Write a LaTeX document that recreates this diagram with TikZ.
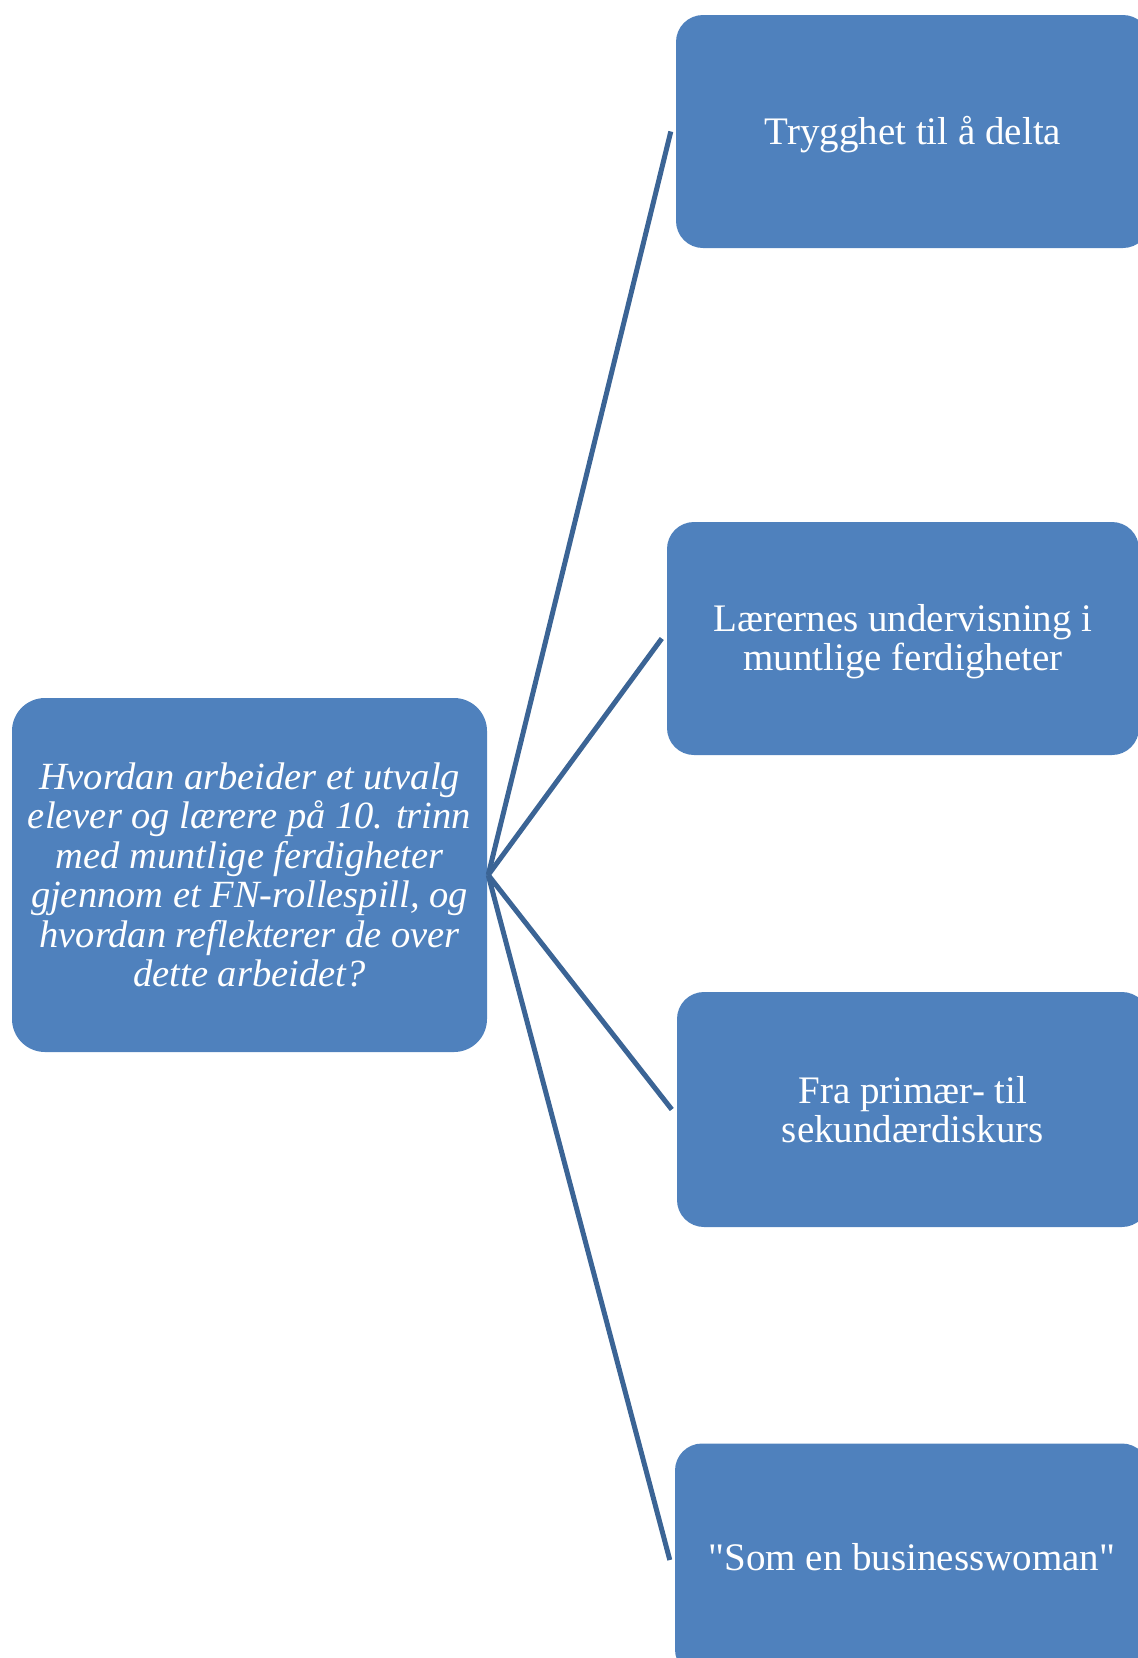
\documentclass[tikz,border=0pt]{standalone}
\usepackage{fontspec}
\setmainfont{Liberation Serif}[Ligatures=TeXOff]
\definecolor{boxblue}{HTML}{4F81BD}
\definecolor{lineblue}{HTML}{3B6495}
\begin{document}
\begin{tikzpicture}[x=1pt,y=-1pt,
  box/.style={draw=none, fill=boxblue, rounded corners=27pt, text=white,
    align=center, inner sep=0pt, minimum height=233pt,
    font=\fontsize{39pt}{39pt}\selectfont},
  rootbox/.style={box, rounded corners=33pt, minimum width=475pt, minimum height=354pt,
    font=\fontsize{38.5pt}{39.5pt}\selectfont\itshape},
  label/.style={text=white, font=\fontsize{39pt}{39pt}\selectfont, align=center},
  conn/.style={draw=lineblue, line width=5pt}]
\useasboundingbox (0,0) rectangle (1138,1658);
\clip (0,0) rectangle (1138,1658);
\node[rootbox] (root) at (249.5,875) {Hvordan arbeider et utvalg\\elever og lærere på 10. trinn\\med muntlige ferdigheter\\gjennom et FN-rollespill, og\\hvordan reflekterer de over\\dette arbeidet?};
\node[box, minimum width=474pt] (c1) at (913,131.5) {};
\node[label] (t1) at (913,134.5) {Trygghet til å delta};
\node[box, minimum width=472pt] (c2) at (903,638.5) {};
\node[label] (t2) at (903,641.5) {Lærernes undervisning i\\muntlige ferdigheter};
\node[box, minimum width=472pt, minimum height=235pt] (c3) at (913,1109.5) {Fra primær- til\\sekundærdiskurs};
\node[box, minimum width=474pt] (c4) at (912,1560) {};
\node[label] (t4) at (912,1557) {"Som en businesswoman"};
\coordinate (hub) at ([xshift=1pt]root.east);
\foreach \c in {c1,c2,c3,c4}{
  \draw[conn] (hub) -- ([xshift=-5pt]\c.west);
}
\end{tikzpicture}
\end{document}
